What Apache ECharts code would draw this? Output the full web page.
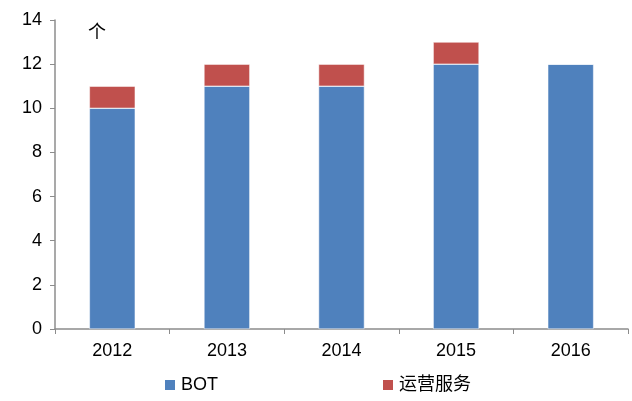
<!DOCTYPE html>
<html>
<head>
<meta charset="utf-8">
<script src="https://cdn.jsdelivr.net/npm/echarts@6/dist/echarts.min.js"></script>
<style>
  html, body { margin: 0; padding: 0; background: #fff; }
  #chart { width: 632px; height: 401px; }
</style>
</head>
<body>
<div id="chart"></div>
<script>
const years = ['2012', '2013', '2014', '2015', '2016']
const bot = [10, 11, 11, 12, 12]
const service = [1, 1, 1, 1, 0]
const seriesNames = ['BOT', '运营服务']

const myChart = echarts.init(document.getElementById('chart'))
myChart.setOption({
  animation: false,
  textStyle: {
    fontFamily: 'Liberation Sans, Arial, sans-serif'
  },
  grid: {
    left: 55,
    right: 4,
    top: 20,
    bottom: 72
  },
  graphic: [{
    type: 'text',
    left: 88,
    top: 22,
    style: {
      text: '个',
      fontSize: 18,
      fontFamily: 'Noto Sans CJK SC',
      fill: '#000'
    }
  }],
  legend: {
    bottom: 2,
    left: 158,
    itemWidth: 12,
    itemHeight: 12,
    itemGap: 163,
    icon: 'rect',
    data: seriesNames,
    textStyle: {
      color: '#000',
      fontSize: 18,
      fontFamily: 'Liberation Sans, Noto Sans CJK SC, sans-serif'
    }
  },
  xAxis: {
    type: 'category',
    data: years,
    axisLine: { lineStyle: { color: '#8c8c8c', width: 1.5 } },
    axisTick: { show: true, length: 5, lineStyle: { color: '#8c8c8c' } },
    axisLabel: { color: '#000', fontSize: 18, margin: 13 }
  },
  yAxis: {
    type: 'value',
    min: 0,
    max: 14,
    interval: 2,
    splitLine: { show: false },
    axisLine: { show: true, lineStyle: { color: '#8c8c8c', width: 1.5 } },
    axisTick: { show: true, length: 5, lineStyle: { color: '#8c8c8c' } },
    axisLabel: { color: '#000', fontSize: 18, margin: 13 }
  },
  series: [
    {
      name: seriesNames[0],
      type: 'bar',
      stack: 'total',
      barWidth: '40%',
      data: bot,
      itemStyle: { color: '#4f81bd', borderColor: '#fff', borderWidth: 0.5 }
    },
    {
      name: seriesNames[1],
      type: 'bar',
      stack: 'total',
      data: service,
      itemStyle: { color: '#c0504d', borderColor: '#fff', borderWidth: 0.5 }
    }
  ]
})
</script>
</body>
</html>
